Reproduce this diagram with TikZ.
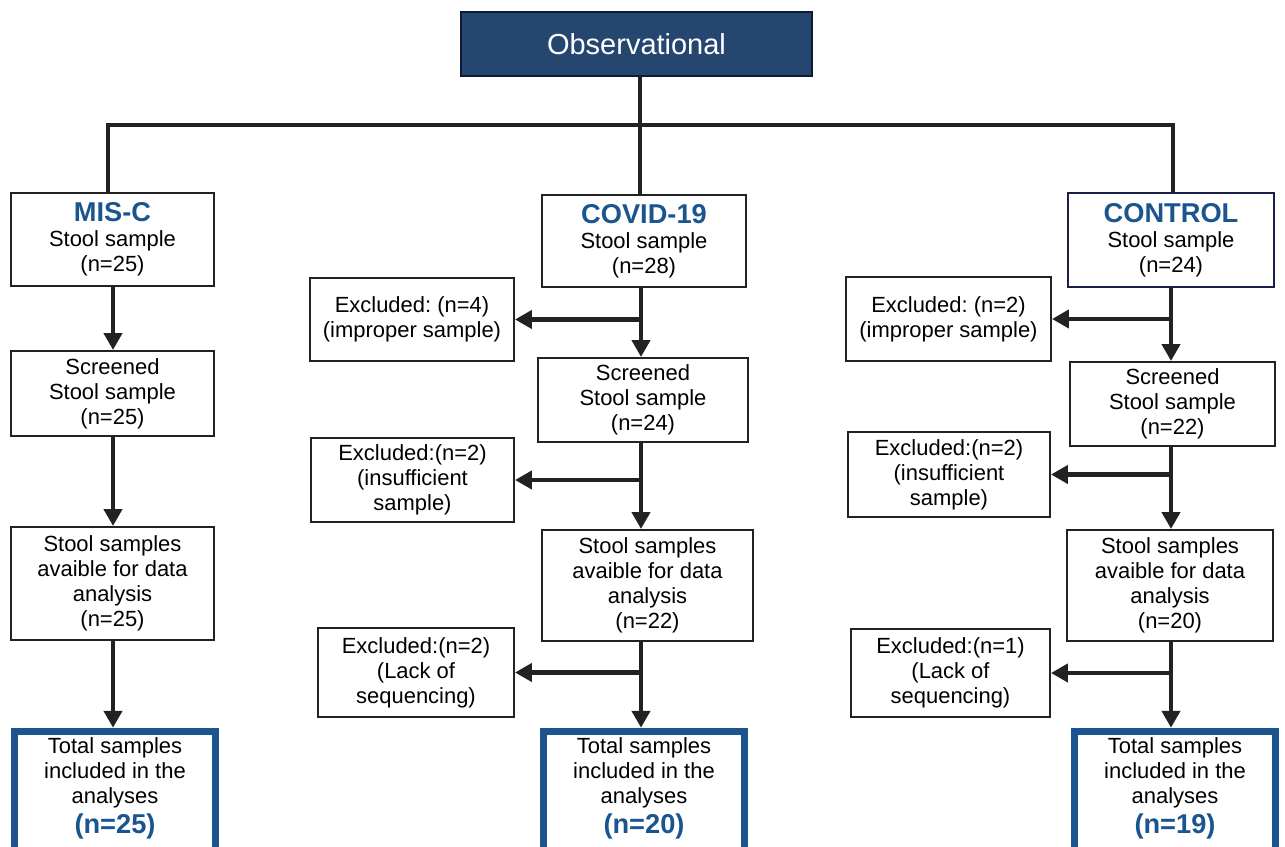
\documentclass[tikz,border=0pt]{standalone}
\usepackage{fontspec}
\setmainfont{Liberation Sans}
\usetikzlibrary{positioning, arrows.meta}
\definecolor{obsblue}{HTML}{24466F}
\definecolor{obsline}{HTML}{0E1A33}
\definecolor{ctrlline}{HTML}{1A1F4A}
\definecolor{headblue}{HTML}{1B5590}
\definecolor{totblue}{HTML}{1C5490}
\definecolor{linegray}{HTML}{222222}
\newcommand{\bodyfont}{\fontsize{12.5}{14.2}\selectfont\frenchspacing}
\newcommand{\headfont}{\fontsize{15.5}{17}\selectfont\bfseries\color{headblue}}

\begin{document}
\begin{tikzpicture}[
    x=0.02cm, y=-0.02cm,
    box/.style={draw=linegray, line width=0.04cm, fill=white, rectangle, align=center, inner sep=0pt, font=\bodyfont},
    total/.style={box, draw=totblue, line width=0.14cm, minimum width=4.02cm, minimum height=2.47cm, text depth=0.3cm},
    arr/.style={-{Triangle[length=0.34cm, width=0.36cm]}, line width=0.09cm, draw=linegray},
    link/.style={line width=0.09cm, draw=linegray}
]
    \path[use as bounding box, fill=white] (0,0) rectangle (1285,847);

    % top
    \node[box, fill=obsblue, draw=obsline, text=white, font=\fontsize{16.5}{19}\selectfont,
          minimum width=7.02cm, minimum height=1.28cm] (obs) at (636.5,44) {Observational};

    % MIS-C
    \node[box, minimum width=4.06cm, minimum height=1.86cm] (misc) at (112.5,239.5) {{\headfont MIS-C}\\Stool sample\\(n=25)};
    \node[box, minimum width=4.06cm, minimum height=1.7cm] (mscr) at (112.5,393.5) {Screened\\Stool sample\\(n=25)};
    \node[box, minimum width=4.06cm, minimum height=2.26cm] (mavail) at (112.5,583.5) {Stool samples\\avaible for data\\analysis\\(n=25)};
    \node[total] (mtot) at (115,793) {Total samples\\included in the\\analyses\\[3pt]{\headfont (n=25)}};

    % COVID-19
    \node[box, minimum width=4.08cm, minimum height=1.84cm] (covid) at (644,241) {{\headfont COVID-19}\\Stool sample\\(n=28)};
    \node[box, minimum width=4.08cm, minimum height=1.66cm] (cex1) at (412,319.5) {Excluded: (n=4)\\(improper sample)};
    \node[box, minimum width=4.2cm, minimum height=1.68cm] (cscr) at (643,400) {Screened\\Stool sample\\(n=24)};
    \node[box, minimum width=4.06cm, minimum height=1.68cm] (cex2) at (412.5,480) {Excluded:(n=2)\\(insufficient\\sample)};
    \node[box, minimum width=4.22cm, minimum height=2.22cm] (cavail) at (647.5,585.5) {Stool samples\\avaible for data\\analysis\\(n=22)};
    \node[box, minimum width=3.92cm, minimum height=1.78cm] (cex3) at (416,672.5) {Excluded:(n=2)\\(Lack of\\sequencing)};
    \node[total] (ctot) at (644,793) {Total samples\\included in the\\analyses\\[3pt]{\headfont (n=20)}};

    % CONTROL
    \node[box, draw=ctrlline, minimum width=4.12cm, minimum height=1.88cm] (control) at (1171,240) {{\headfont CONTROL}\\Stool sample\\(n=24)};
    \node[box, minimum width=4.1cm, minimum height=1.68cm] (kex1) at (948.5,319) {Excluded: (n=2)\\(improper sample)};
    \node[box, minimum width=4.1cm, minimum height=1.68cm] (kscr) at (1172.5,404) {Screened\\Stool sample\\(n=22)};
    \node[box, minimum width=4.04cm, minimum height=1.7cm] (kex2) at (949,474.5) {Excluded:(n=2)\\(insufficient\\sample)};
    \node[box, minimum width=4.12cm, minimum height=2.22cm] (kavail) at (1170,585.5) {Stool samples\\avaible for data\\analysis\\(n=20)};
    \node[box, minimum width=3.98cm, minimum height=1.76cm] (kex3) at (950.5,673) {Excluded:(n=1)\\(Lack of\\sequencing)};
    \node[total] (ktot) at (1175,793) {Total samples\\included in the\\analyses\\[3pt]{\headfont (n=19)}};

    % branching lines
    \coordinate (bus) at (640,125);
    \coordinate (lx) at (108,125);
    \coordinate (rx) at (1173,125);
    \draw[link] (obs.south -| bus) -- (bus) -- (bus |- covid.north);
    \draw[link] (misc.north -| lx) -- (lx) -- (rx) -- (rx |- control.north);

    % column spines
    \coordinate (ls) at (113,0);
    \coordinate (cs) at (641,0);
    \coordinate (rs) at (1171,0);

    \draw[arr] (misc.south -| ls) -- (mscr.north -| ls);
    \draw[arr] (mscr.south -| ls) -- (mavail.north -| ls);
    \draw[arr] (mavail.south -| ls) -- (mtot.north -| ls);

    \draw[arr] (covid.south -| cs) -- (cscr.north -| cs);
    \draw[arr] (cscr.south -| cs) -- (cavail.north -| cs);
    \draw[arr] (cavail.south -| cs) -- (ctot.north -| cs);
    \draw[arr] (cs |- cex1) -- (cex1.east);
    \draw[arr] (cs |- cex2) -- (cex2.east);
    \draw[arr] (cs |- cex3) -- (cex3.east);

    \draw[arr] (control.south -| rs) -- (kscr.north -| rs);
    \draw[arr] (kscr.south -| rs) -- (kavail.north -| rs);
    \draw[arr] (kavail.south -| rs) -- (ktot.north -| rs);
    \draw[arr] (rs |- kex1) -- (kex1.east);
    \draw[arr] (rs |- kex2) -- (kex2.east);
    \draw[arr] (rs |- kex3) -- (kex3.east);
\end{tikzpicture}
\end{document}
